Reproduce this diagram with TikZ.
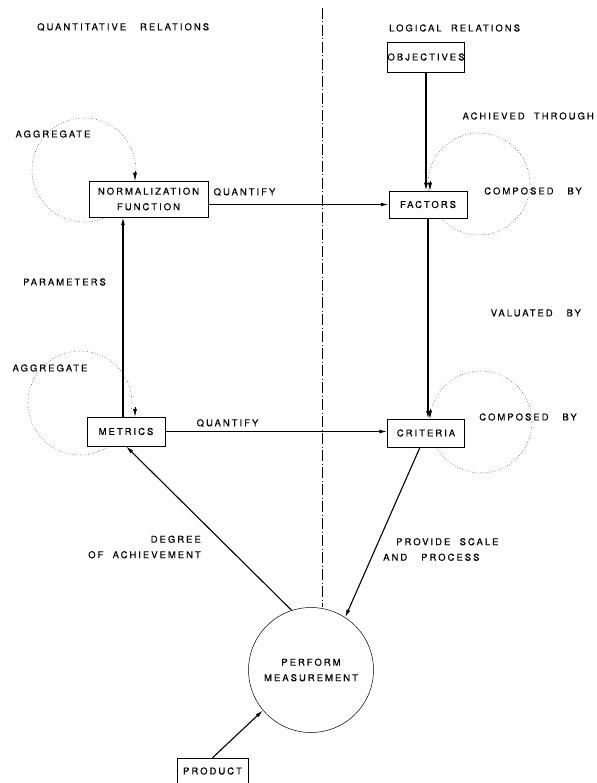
\documentclass[tikz,border=0pt]{standalone}
\usepackage{fontspec}
\usetikzlibrary{arrows.meta}
\newfontfamily\lett[LetterSpace=21,FakeBold=0.4]{TeX Gyre Heros}
\begin{document}
\begin{tikzpicture}[x=1pt,y=-1pt,
  lbl/.style={font=\fontsize{9.5}{15.5}\selectfont\lett, inner sep=0pt, align=center},
  boxnode/.style={draw, line width=0.5pt, fill=white, inner sep=0pt, lbl},
  arr/.style={line width=1.1pt, -{Latex[length=8pt,width=4pt]}},
  loopc/.style={draw=black!70, line width=0.6pt, dotted},
  dashdot/.style={line width=1pt, dash pattern=on 11pt off 2.5pt on 1pt off 2.5pt}
]
\useasboundingbox (0,0) rectangle (596,783);
% aggregation / composition loops (drawn first, boxes hide the inner parts)
\coordinate (nfl) at (84,170);
\coordinate (mel) at (80,403);
\coordinate (fal) at (479,184);
\coordinate (crl) at (481,422);
\draw[loopc] (nfl) circle[radius=52];
\draw[loopc] (mel) circle[radius=52];
\draw[loopc] (fal) circle[radius=51];
\draw[loopc] (crl) circle[radius=51];
% headings
\node[lbl, anchor=west] (hq) at (37,27) {QUANTITATIVE\ \ \ RELATIONS};
\node[lbl, anchor=west] (hl) at (389,28) {LOGICAL\ \ RELATIONS};
% boxes
\node[boxnode, minimum width=68, minimum height=30] (obj) at (426,57) {OBJECTIVES};
\node[boxnode, minimum width=119, minimum height=36] (nf) at (148.5,199) {NORMALIZATION\\FUNCTION};
\node[boxnode, minimum width=78, minimum height=27] (fac) at (428,204.5) {FACTORS};
\node[boxnode, minimum width=78, minimum height=29] (met) at (126,431.5) {METRICS};
\node[boxnode, minimum width=77, minimum height=28] (crit) at (426,433) {CRITERIA};
\node[boxnode, minimum width=71, minimum height=26] (prod) at (212.5,771) {PRODUCT};
\node[draw, circle, line width=0.5pt, minimum size=125, inner sep=0pt, lbl, fill=white] (pm) at (311,670) {PERFORM\\MEASUREMENT};
% dash-dot separator
\coordinate (ddtop) at (322,8);
\draw[dashdot] (ddtop) -- (ddtop |- pm.north);
% labels
\node[lbl, anchor=east] (l1) at (594,116) {ACHIEVED\ \ THROUGH};
\node[lbl] (l2) at (53,134) {AGGREGATE};
\node[lbl] (l3) at (244.5,192) {QUANTIFY};
\node[lbl] (l4) at (533,191) {COMPOSED\ \ \ BY};
\node[lbl] (l5) at (64.5,282) {PARAMETERS};
\node[lbl, anchor=east] (l6) at (581,313) {VALUATED\ \ \ BY};
\node[lbl] (l7) at (50,368) {AGGREGATE};
\node[lbl] (l8) at (227.5,423) {QUANTIFY};
\node[lbl] (l9) at (528,417) {COMPOSED\ \ \ BY};
\node[lbl, align=right, anchor=east] (l10) at (201,547) {DEGREE\hspace{10pt}\\OF\ \ ACHIEVEMENT};
\node[lbl, align=left, anchor=west] (l11) at (383,549.5) {\hspace{13pt}PROVIDE\ \ SCALE\\AND\ \ \ PROCESS};
% connectors
\draw[arr] (obj.south) -- (obj.south |- fac.north);
\draw[arr] (fac.south) -- (fac.south |- crit.north);
\draw[arr] (nf.east |- fac.west) -- (fac.west);
\draw[arr] ([xshift=-3pt]met.north) -- ([xshift=-3pt]met.north |- nf.south);
\draw[arr] (met.east) -- (met.east -| crit.west);
\draw[arr] (pm.108) -- (met.south);
\draw[arr] ([xshift=-6pt]crit.south) -- (pm.57);
\draw[arr] (prod.north) -- (pm.220);
% loop arrow heads
\coordinate (nfa) at (135,171);
\coordinate (mea) at (135,407);
\coordinate (faa) at (430,181);
\coordinate (cra) at (430,409);
\draw[arr, line width=0.6pt] (nfa) -- (nfa |- nf.north);
\draw[arr, line width=0.6pt] (mea) -- (mea |- met.north);
\draw[arr, line width=0.6pt] (faa) -- (faa |- fac.north);
\draw[arr, line width=0.6pt] (cra) -- (cra |- crit.north);
\end{tikzpicture}
\end{document}
